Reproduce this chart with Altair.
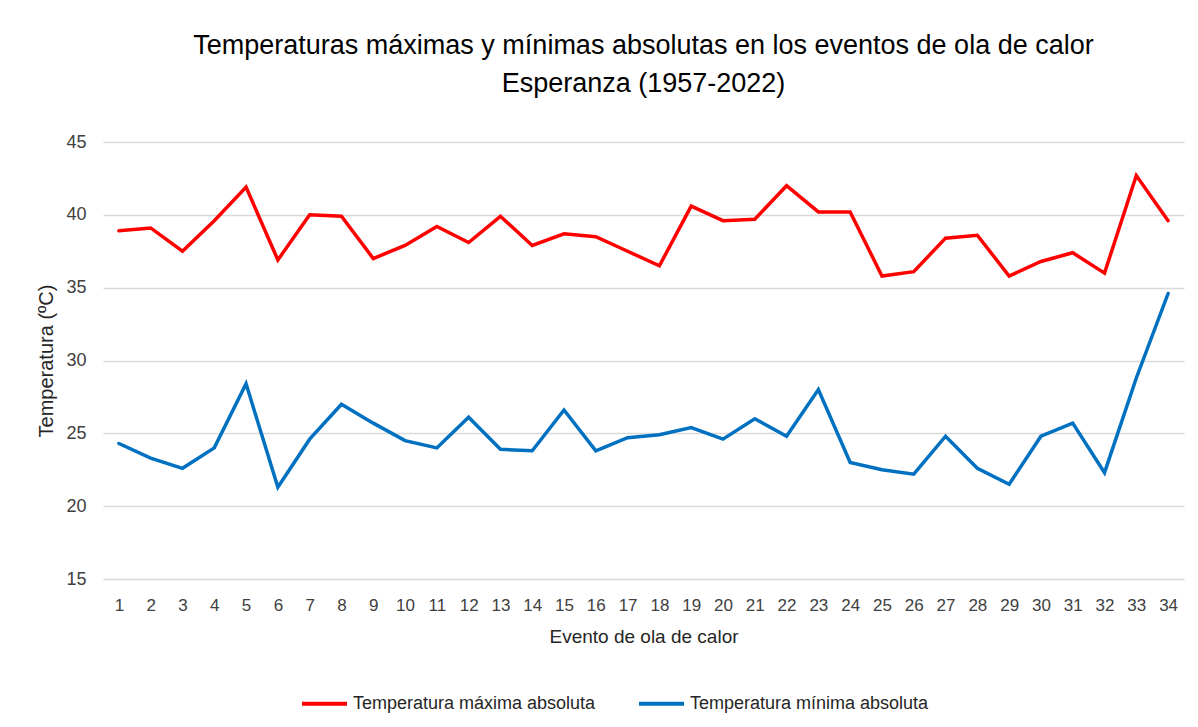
import altair as alt
import pandas as pd

eventos = list(range(1, 35))
temp_max = [38.9, 39.1, 37.5, 39.6, 41.9, 36.9, 40.0, 39.9, 37.0, 37.9,
            39.2, 38.1, 39.9, 37.9, 38.7, 38.5, 37.5, 36.5, 40.6, 39.6,
            39.7, 42.0, 40.2, 40.2, 35.8, 36.1, 38.4, 38.6, 35.8, 36.8,
            37.4, 36.0, 42.7, 39.6]
temp_min = [24.3, 23.3, 22.6, 24.0, 28.4, 21.3, 24.6, 27.0, 25.7, 24.5,
            24.0, 26.1, 23.9, 23.8, 26.6, 23.8, 24.7, 24.9, 25.4, 24.6,
            26.0, 24.8, 28.0, 23.0, 22.5, 22.2, 24.8, 22.6, 21.5, 24.8,
            25.7, 22.3, 28.8, 34.6]
serie_max = "Temperatura máxima absoluta"
serie_min = "Temperatura mínima absoluta"
y_ticks = [15, 20, 25, 30, 35, 40, 45]
title_lines = ["Temperaturas máximas y mínimas absolutas en los eventos de ola de calor",
               "Esperanza (1957-2022)"]

df = pd.DataFrame({
    "Evento": eventos * 2,
    "Temp": temp_max + temp_min,
    "Serie": [serie_max] * len(eventos) + [serie_min] * len(eventos),
})

font = "Liberation Sans"

chart = alt.Chart(df).mark_line(strokeWidth=3.5, strokeCap="round").encode(
    x=alt.X("Evento:O", sort=eventos,
            scale=alt.Scale(type="point", padding=0.5),
            axis=alt.Axis(title="Evento de ola de calor", labelAngle=0, domain=False,
                          ticks=False, grid=False, labelPadding=18, titlePadding=14,
                          labelFontSize=17, titleFontSize=19, labelColor="#404040",
                          titleColor="#262626", labelFont=font, titleFont=font,
                          titleFontWeight="normal")),
    y=alt.Y("Temp:Q", scale=alt.Scale(domain=[15, 45], nice=False, zero=False),
            axis=alt.Axis(title="Temperatura (ºC)", values=y_ticks, domain=False,
                          ticks=False, grid=True, gridColor="#d9d9d9", gridWidth=1.5,
                          labelPadding=17, titlePadding=9, labelFontSize=18,
                          titleFontSize=20, labelColor="#404040", titleColor="#262626",
                          labelFont=font, titleFont=font, titleFontWeight="normal")),
    color=alt.Color("Serie:N",
                    scale=alt.Scale(domain=[serie_max, serie_min], range=["#FF0000", "#0070C0"]),
                    legend=alt.Legend(title=None, orient="none", direction="horizontal",
                                      legendX=197, legendY=537, symbolType="stroke",
                                      symbolSize=2025, symbolStrokeWidth=4,
                                      labelFontSize=18, labelFont=font, labelColor="#262626",
                                      labelLimit=400, columnPadding=35, labelOffset=4)),
).properties(
    width=1081, height=437,
    title=alt.TitleParams(text=title_lines, fontSize=27, font=font, fontWeight="normal",
                          color="#000000", lineHeight=38, anchor="middle", offset=35),
    autosize=alt.AutoSizeParams(type="none"),
    padding={"left": 95, "top": 134, "right": 6, "bottom": 140},
).configure_view(stroke=None)

chart.save("out.html", embed_options={"renderer": "svg", "actions": False})
